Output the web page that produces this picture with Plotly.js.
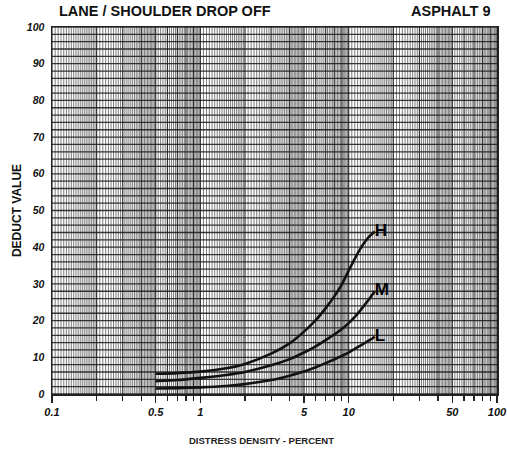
<!DOCTYPE html>
<html>
<head>
<meta charset="utf-8">
<script src="https://cdn.plot.ly/plotly-3.0.1.min.js"></script>
<style>
  html, body { margin: 0; padding: 0; background: #fff; }
  #chart { width: 507px; height: 453px; }
</style>
</head>
<body>
<div id="chart"></div>
<script>
// Distress density (percent) sampled along each severity curve
const densityPct = [0.5, 0.7, 1, 1.5, 2, 3, 4, 5, 6, 7, 8, 9, 10, 11, 12, 13, 14, 15];
// Deduct values for High, Medium and Low severity
const highDeduct = [5.5, 5.7, 6.1, 7.0, 8.2, 11.0, 13.8, 17.0, 20.1, 23.4, 26.6, 29.9, 33.6, 36.9, 39.6, 41.7, 43.2, 44.3];
const medDeduct  = [3.5, 3.8, 4.4, 5.2, 6.0, 7.8, 9.5, 11.3, 13.0, 14.7, 16.2, 17.7, 19.3, 21.0, 22.8, 24.6, 26.3, 28.0];
const lowDeduct  = [1.5, 1.6, 1.8, 2.2, 2.7, 3.8, 5.0, 6.1, 7.3, 8.4, 9.4, 10.4, 11.3, 12.3, 13.2, 14.0, 14.8, 15.6];
const severityLabels = ['H', 'M', 'L'];

// Axis labelling
const xTickVals = [0.1, 0.5, 1, 5, 10, 50, 100];
const xTickText = ['0.1', '0.5', '1', '5', '10', '50', '100'];
const yTickVals = [0, 10, 20, 30, 40, 50, 60, 70, 80, 90, 100];

// Semi-log graph paper: vertical rulings per decade, horizontal every 2 units
function decadeRulings() {
  const vals = [];
  [0.1, 1, 10].forEach(d => {
    for (let v = 1; v < 2 - 1e-9; v += 0.05) vals.push(+(v * d).toFixed(6));
    for (let v = 2; v < 5 - 1e-9; v += 0.1) vals.push(+(v * d).toFixed(6));
    for (let v = 5; v < 10 - 1e-9; v += 0.2) vals.push(+(v * d).toFixed(6));
  });
  vals.push(100);
  return vals;
}
const vRule = decadeRulings();
const hRule = [];
for (let y = 0; y <= 100; y += 2) hRule.push(y);

function ruleTrace(xs, ys, color, width) {
  return { x: xs, y: ys, mode: 'lines', hoverinfo: 'skip', showlegend: false,
           line: { color: color, width: width } };
}

// minor vertical rulings vs heavier integer rulings
const minorX = [], minorY = [], majorX = [], majorY = [];
vRule.forEach(v => {
  const m = v / Math.pow(10, Math.floor(Math.log10(v) + 1e-9));
  const isMajor = Math.abs(m - Math.round(m)) < 1e-6;
  const tx = isMajor ? majorX : minorX, ty = isMajor ? majorY : minorY;
  tx.push(v, v, null); ty.push(0, 100, null);
});
const hX = [], hY = [];
hRule.forEach(y => { hX.push(0.1, 100, null); hY.push(y, y, null); });

function curve(ys, label) {
  const txt = ys.map((_, i) => i === ys.length - 1 ? label : '');
  return { x: densityPct, y: ys, mode: 'lines+text', text: txt,
           textposition: 'middle right', cliponaxis: false,
           textfont: { family: 'Liberation Sans, Arial, sans-serif', size: 17, color: '#000', weight: 'bold' },
           line: { color: '#111', width: 2.6, shape: 'spline', smoothing: 0.6 },
           showlegend: false, hoverinfo: 'x+y' };
}

const data = [
  ruleTrace(minorX, minorY, 'rgba(45,45,45,0.62)', 1),
  ruleTrace(majorX, majorY, 'rgba(20,20,20,0.88)', 1.2),
  ruleTrace(hX, hY, 'rgba(25,25,25,0.85)', 1.3),
  curve(highDeduct, severityLabels[0]),
  curve(medDeduct, severityLabels[1]),
  curve(lowDeduct, severityLabels[2])
];

const minorTicks = [];
[0.1, 1, 10].forEach(d => { for (let k = 2; k <= 9; k++) if (k !== 5) minorTicks.push(k * d); });

const font = 'Liberation Sans, Arial, sans-serif';
const layout = {
  width: 507, height: 453,
  margin: { l: 52, r: 10, t: 27, b: 59 },
  paper_bgcolor: '#fff', plot_bgcolor: '#fff',
  font: { family: font, color: '#111' },
  xaxis: {
    type: 'log', range: [-1, 2],
    tickmode: 'array', tickvals: xTickVals, ticktext: xTickText,
    ticklabeloverflow: 'allow',
    ticks: 'outside', ticklen: 7, tickwidth: 1.3, tickcolor: '#222',
    minor: { tickmode: 'array', tickvals: minorTicks, ticks: 'outside', ticklen: 5, tickwidth: 1.2, tickcolor: '#222', showgrid: false },
    showgrid: false, zeroline: false,
    showline: true, linecolor: '#222', linewidth: 1.5, mirror: true,
    tickfont: { family: font, size: 11, weight: 'bold', style: 'italic' }
  },
  yaxis: {
    range: [0, 100],
    tickmode: 'array', tickvals: yTickVals,
    ticks: '', ticklabelstandoff: 4,
    showgrid: false, zeroline: false,
    showline: true, linecolor: '#222', linewidth: 1.5, mirror: true,
    tickfont: { family: font, size: 10.5, weight: 'bold', style: 'italic' },
    title: { text: 'DEDUCT VALUE', font: { family: font, size: 12, weight: 'bold' }, standoff: 2 }
  },
  annotations: [
    { text: 'LANE / SHOULDER DROP OFF', xref: 'paper', yref: 'paper', x: 0.012, y: 1.043,
      xanchor: 'left', yanchor: 'middle', showarrow: false,
      font: { family: font, size: 14.5, weight: 'bold', color: '#111' } },
    { text: 'ASPHALT 9', xref: 'paper', yref: 'paper', x: 0.99, y: 1.043,
      xanchor: 'right', yanchor: 'middle', showarrow: false,
      font: { family: font, size: 14.5, weight: 'bold', color: '#111' } },
    { text: 'DISTRESS DENSITY - PERCENT', xref: 'paper', yref: 'paper', x: 0.47, y: -0.128,
      xanchor: 'center', yanchor: 'middle', showarrow: false,
      font: { family: font, size: 9.5, weight: 'bold', color: '#222' } }
  ]
};

Plotly.newPlot('chart', data, layout, { displayModeBar: false, staticPlot: true });
</script>
</body>
</html>
